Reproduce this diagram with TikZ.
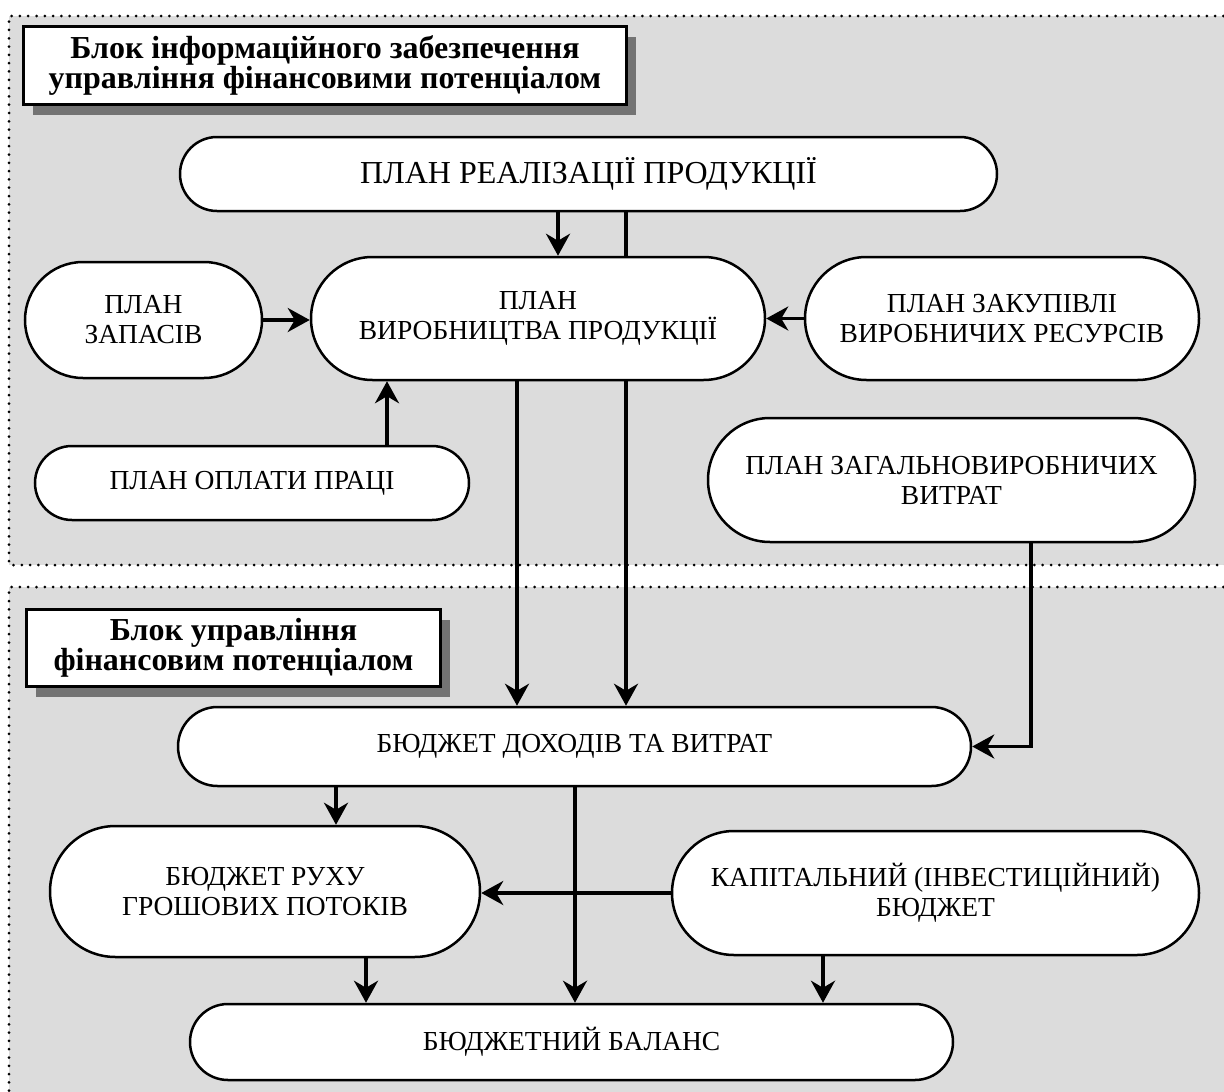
\documentclass[tikz,border=0pt]{standalone}
\usepackage{fontspec}
\setmainfont{Liberation Serif}
\usetikzlibrary{shapes.misc,arrows.meta,shadows}
\definecolor{panelgray}{RGB}{220,220,220}
\definecolor{shadowgray}{RGB}{115,115,115}
\tikzset{
  pill/.style={rounded rectangle, draw=black, line width=2.5pt, fill=white, align=center, inner sep=0pt, font=\fontsize{27.5}{30}\selectfont},
  titlebox/.style={rectangle, draw=black, line width=3pt, fill=white, align=center, inner xsep=4pt, inner ysep=0pt,
     font=\bfseries\fontsize{32}{28.5}\selectfont,
     drop shadow={shadow xshift=9pt, shadow yshift=-10pt, fill=shadowgray, opacity=1}},
  conn/.style={line width=3.5pt, draw=black},
  arr/.style={conn, -{Stealth[length=22pt,width=24pt,inset=7pt]}},
  dotline/.style={line width=3pt, dash pattern=on 0pt off 8.3pt, line cap=round, draw=black}
}
\begin{document}
\begin{tikzpicture}[x=1pt,y=-1pt]
\useasboundingbox (0,0) rectangle (1224,1092);
\clip (0,0) rectangle (1224,1092);
% panels
\fill[panelgray] (9,16) rectangle (1240,565);
\fill[panelgray] (9,587) rectangle (1240,1110);
\draw[dotline] (1240,16) -- (9,16) -- (9,565) -- (1240,565);
\draw[dotline] (1240,587) -- (9,587) -- (9,1110);
% x reference coordinates
\coordinate (c558) at (558,0);
\coordinate (c626) at (626,0);
\coordinate (c517) at (517,0);
\coordinate (c387) at (387,0);
\coordinate (c1031) at (1031,0);
\coordinate (c336) at (336,0);
\coordinate (c575) at (575,0);
\coordinate (c366) at (366,0);
\coordinate (c823) at (823,0);
% nodes
\node[pill, minimum width=817pt, minimum height=74pt, font=\fontsize{32}{34}\selectfont] (prp) at (588.5,174) {ПЛАН РЕАЛІЗАЦІЇ ПРОДУКЦІЇ};
\node[pill, minimum width=237pt, minimum height=116pt] (pz) at (143.5,320) {ПЛАН\\ЗАПАСІВ};
\node[pill, minimum width=454pt, minimum height=123pt] (pvp) at (538,318.5) {ПЛАН\\ВИРОБНИЦТВА ПРОДУКЦІЇ};
\node[pill, minimum width=394pt, minimum height=123pt] (pzvr) at (1002,318.5) {ПЛАН ЗАКУПІВЛІ\\ВИРОБНИЧИХ РЕСУРСІВ};
\node[pill, minimum width=434pt, minimum height=74pt] (pop) at (252,483) {ПЛАН ОПЛАТИ ПРАЦІ};
\node[pill, minimum width=487pt, minimum height=124pt] (pzv) at (951.5,480) {ПЛАН ЗАГАЛЬНОВИРОБНИЧИХ\\ВИТРАТ};
\node[pill, minimum width=793pt, minimum height=79pt] (bdv) at (574.5,746.5) {БЮДЖЕТ ДОХОДІВ ТА ВИТРАТ};
\node[pill, minimum width=430pt, minimum height=131pt] (brgp) at (265,891.5) {БЮДЖЕТ РУХУ\\ГРОШОВИХ ПОТОКІВ};
\node[pill, minimum width=527pt, minimum height=124pt] (kib) at (935.5,893) {КАПІТАЛЬНИЙ (ІНВЕСТИЦІЙНИЙ)\\БЮДЖЕТ};
\node[pill, minimum width=763pt, minimum height=76pt] (bb) at (571.5,1042) {БЮДЖЕТНИЙ БАЛАНС};
% connectors
\draw[arr] (prp.south -| c558) -- (pvp.north -| c558);
\draw[conn] (prp.south -| c626) -- (pvp.north -| c626);
\draw[arr] (pvp.south -| c517) -- (bdv.north -| c517);
\draw[arr] (pvp.south -| c626) -- (bdv.north -| c626);
\draw[arr] (pz.east) -- (pvp.west |- pz.east);
\draw[arr] (pzvr.west) -- (pvp.east |- pzvr.west);
\draw[arr] (pop.north -| c387) -- (pvp.south -| c387);
\draw[arr] (pzv.south -| c1031) |- (bdv.east);
\draw[arr] (bdv.south -| c336) -- (brgp.north -| c336);
\draw[arr] (bdv.south -| c575) -- (bb.north -| c575);
\draw[arr] (kib.west) -- (brgp.east |- kib.west);
\draw[arr] (brgp.south -| c366) -- (bb.north -| c366);
\draw[arr] (kib.south -| c823) -- (bb.north -| c823);
% titles
\node[titlebox, anchor=north west, minimum height=78pt, minimum width=603pt] (t1) at (22,25) {Блок інформаційного забезпечення\\управління фінансовими потенціалом};
\node[titlebox, anchor=north west, minimum height=77pt, minimum width=414pt] (t2) at (25,608) {Блок управління\\фінансовим потенціалом};
\end{tikzpicture}
\end{document}
